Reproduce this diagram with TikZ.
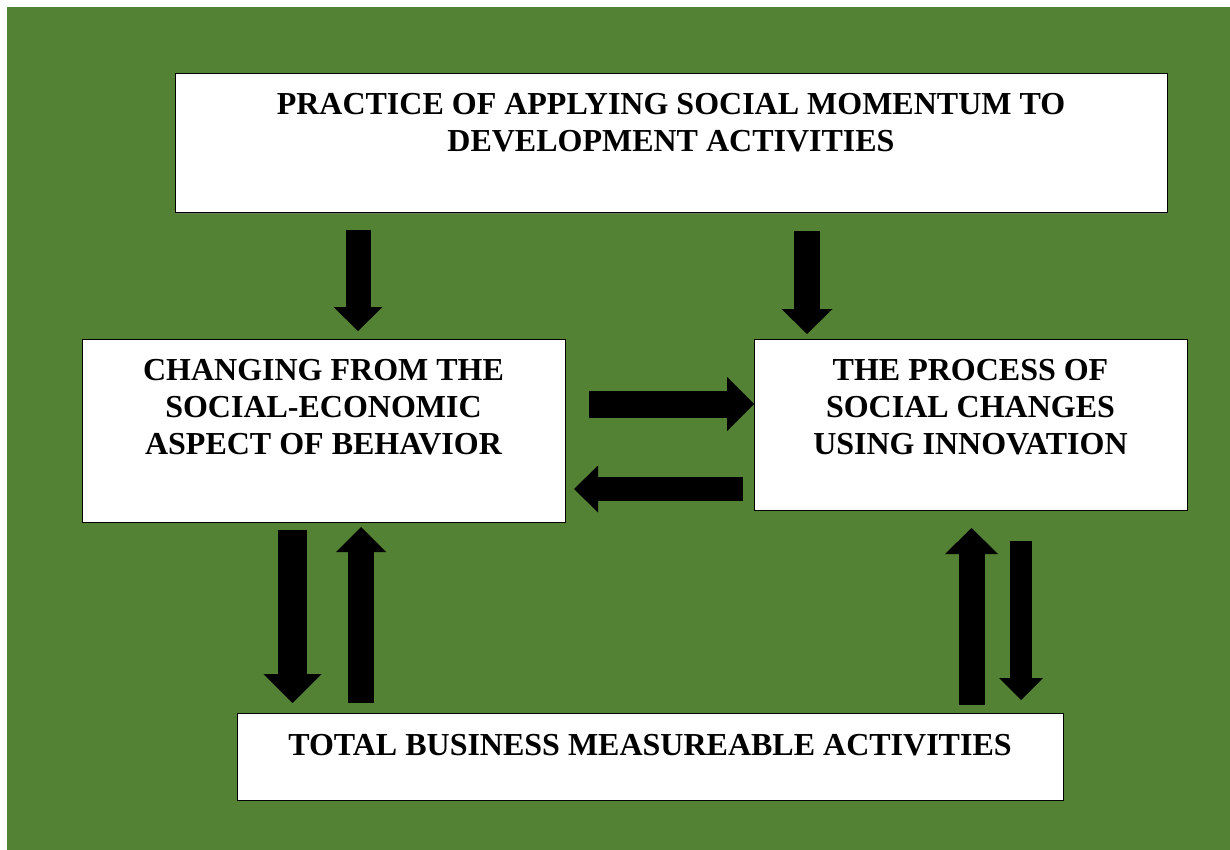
\documentclass[tikz,border=0pt]{standalone}
\usepackage{fontspec}
\setmainfont{Liberation Serif}
\usetikzlibrary{arrows.meta,shadows}
\definecolor{bggreen}{RGB}{84,130,53}
\tikzset{
  box/.style={draw=black, line width=1pt, fill=white, inner sep=0pt,
    drop shadow={shadow xshift=1.2pt, shadow yshift=-1.2pt, opacity=0.5, fill=gray}},
  lbl/.style={font=\bfseries\fontsize{32}{36.8}\selectfont, align=center, inner sep=0pt, anchor=north},
  bigarrow/.style n args={3}{draw=black, line width=#1, line cap=butt,
    -{Triangle[width=#2, length=#3, line width=0pt]}}
}
\begin{document}
\begin{tikzpicture}[x=1pt, y=-1pt]
\useasboundingbox (0,0) rectangle (1230,850);
\fill[bggreen] (7,7) rectangle (1230,850);
% boxes
\node[box, minimum width=992pt, minimum height=139pt] (top) at (671,143.5) {};
\node[box, minimum width=483pt, minimum height=183pt] (left) at (323.5,430.5) {};
\node[box, minimum width=433pt, minimum height=171pt] (right) at (970.5,424.5) {};
\node[box, minimum width=826pt, minimum height=87pt] (bottom) at (650,756.5) {};
% labels
\node[lbl] (ttop) at (671,93.4) {PRACTICE OF APPLYING SOCIAL MOMENTUM TO\\DEVELOPMENT ACTIVITIES};
\node[lbl] (tleft) at (323.5,359.4) {CHANGING FROM THE\\SOCIAL-ECONOMIC\\ASPECT OF BEHAVIOR};
\node[lbl] (tright) at (970.5,359.4) {THE PROCESS OF\\SOCIAL CHANGES\\USING INNOVATION};
\node[lbl] (tbottom) at (650,734.4) {TOTAL BUSINESS MEASUREABLE ACTIVITIES};
% arrow end points
\coordinate (a1s) at (358,230);   \coordinate (a1e) at (358,331);
\coordinate (a2s) at (807,231.5); \coordinate (a2e) at (807,334);
\coordinate (a3s) at (589,404);   \coordinate (a3e) at (754,404);
\coordinate (a4s) at (743,489);   \coordinate (a4e) at (574,489);
\coordinate (a5s) at (292.5,530); \coordinate (a5e) at (292.5,703);
\coordinate (a6s) at (361,703);   \coordinate (a6e) at (361,527);
\coordinate (a7s) at (971.5,705); \coordinate (a7e) at (971.5,528);
\coordinate (a8s) at (1021,541);  \coordinate (a8e) at (1021,700);
% arrows
\draw[bigarrow={25pt}{49pt}{24pt}] (a1s) -- (a1e);
\draw[bigarrow={26pt}{51pt}{25pt}] (a2s) -- (a2e);
\draw[bigarrow={27pt}{54pt}{27pt}] (a3s) -- (a3e);
\draw[bigarrow={24pt}{47pt}{24pt}] (a4s) -- (a4e);
\draw[bigarrow={28.5pt}{58pt}{29pt}] (a5s) -- (a5e);
\draw[bigarrow={26pt}{50pt}{25pt}] (a6s) -- (a6e);
\draw[bigarrow={26pt}{53pt}{26pt}] (a7s) -- (a7e);
\draw[bigarrow={22pt}{44pt}{22pt}] (a8s) -- (a8e);
\end{tikzpicture}
\end{document}
